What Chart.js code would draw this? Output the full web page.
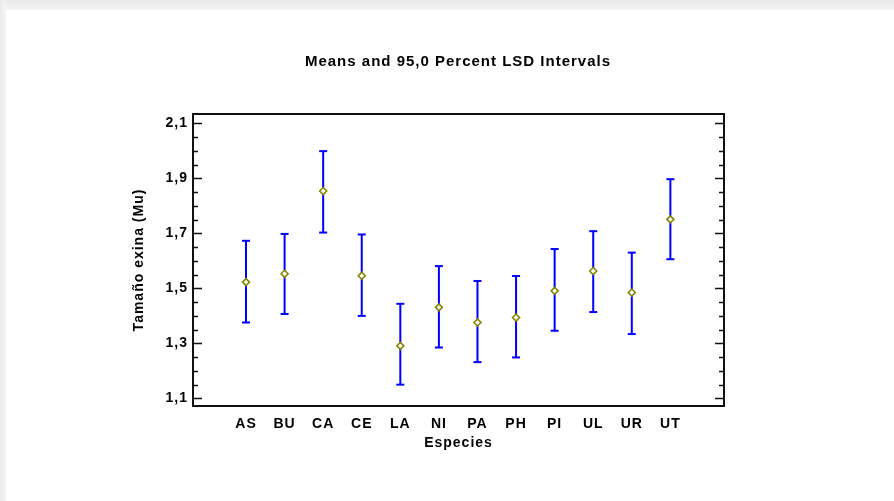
<!DOCTYPE html>
<html>
<head>
<meta charset="utf-8">
<script src="https://cdn.jsdelivr.net/npm/chart.js@4/dist/chart.umd.min.js"></script>
<style>
  html, body { margin: 0; padding: 0; }
  body { width: 894px; height: 501px; overflow: hidden; background: #fff; position: relative; }
  .edge-top { position: absolute; left: 0; top: 0; width: 894px; height: 10px; background: linear-gradient(to bottom, #e8e8e8, #f4f4f4); }
  .edge-left { position: absolute; left: 0; top: 0; width: 6px; height: 501px; background: linear-gradient(to right, #ebebeb, #f4f4f4); }
  canvas { position: absolute; left: 0; top: 0; }
</style>
</head>
<body>
<div class="edge-top"></div>
<div class="edge-left"></div>
<canvas id="chart" width="894" height="501"></canvas>
<script>
// Species and their mean exine size with 95% LSD interval limits
const species = ['AS', 'BU', 'CA', 'CE', 'LA', 'NI', 'PA', 'PH', 'PI', 'UL', 'UR', 'UT'];
const means   = [1.523, 1.553, 1.854, 1.546, 1.291, 1.431, 1.376, 1.394, 1.491, 1.563, 1.485, 1.751];
const lower   = [1.376, 1.407, 1.703, 1.400, 1.150, 1.285, 1.232, 1.249, 1.346, 1.414, 1.334, 1.606];
const upper   = [1.673, 1.698, 1.999, 1.696, 1.444, 1.581, 1.527, 1.545, 1.643, 1.708, 1.630, 1.897];
const yTicks  = [1.1, 1.3, 1.5, 1.7, 1.9, 2.1];

const BLUE = '#0000ff';
const OLIVE = '#858500';
const FAMILY = '"Liberation Sans", Arial, sans-serif';
const FONT = { family: FAMILY, size: 14, weight: 'bold' };

// Vertical interval stems, broken between species
const stemPoints = [];
species.forEach((s, i) => {
  stemPoints.push({ x: i + 1, y: lower[i] });
  stemPoints.push({ x: i + 1, y: upper[i] });
  stemPoints.push({ x: i + 1, y: null });
});
const capPoints = species.flatMap((s, i) => [{ x: i + 1, y: lower[i] }, { x: i + 1, y: upper[i] }]);
const meanPoints = species.map((s, i) => ({ x: i + 1, y: means[i] }));

// Letter spacing for all chart text
const spacing = {
  id: 'spacing',
  beforeLayout(chart) { chart.ctx.letterSpacing = '1px'; },
  beforeDraw(chart) { chart.ctx.letterSpacing = '1px'; }
};

// Plot frame with inward major/minor ticks on both vertical sides
const frame = {
  id: 'frame',
  afterDraw(chart) {
    const { ctx, chartArea: a } = chart;
    const y = chart.scales.y;
    ctx.save();
    ctx.strokeStyle = '#111';
    ctx.lineWidth = 1.5;
    ctx.beginPath();
    for (let k = 0; k <= 20; k++) {
      const v = 1.1 + k * 0.05;
      const py = Math.round(y.getPixelForValue(v)) + 0.5;
      const len = (k % 4 === 0) ? 9 : 5;
      ctx.moveTo(a.left, py); ctx.lineTo(a.left + len, py);
      ctx.moveTo(a.right, py); ctx.lineTo(a.right - len, py);
    }
    ctx.stroke();
    ctx.lineWidth = 2;
    ctx.strokeRect(a.left, a.top, a.right - a.left, a.bottom - a.top);
    ctx.restore();
  }
};

new Chart(document.getElementById('chart'), {
  type: 'scatter',
  data: {
    datasets: [
      {
        label: 'Mean',
        data: meanPoints,
        pointStyle: 'rectRot',
        pointRadius: 3.5,
        pointBorderWidth: 1.6,
        borderColor: OLIVE,
        backgroundColor: '#ffffff',
        pointBorderColor: OLIVE,
        pointBackgroundColor: '#ffffff'
      },
      {
        label: 'Caps',
        data: capPoints,
        pointStyle: 'line',
        pointRadius: 4,
        pointBorderWidth: 2,
        borderColor: BLUE,
        pointBorderColor: BLUE
      },
      {
        label: 'Interval',
        data: stemPoints,
        showLine: true,
        spanGaps: false,
        borderColor: BLUE,
        borderWidth: 2,
        pointRadius: 0
      }
    ]
  },
  options: {
    responsive: false,
    animation: false,
    layout: { padding: { left: 22, right: 0, top: 0, bottom: 0 } },
    plugins: {
      legend: { display: false },
      tooltip: { enabled: false },
      title: {
        display: true,
        text: 'Means and 95,0 Percent LSD Intervals',
        color: '#000',
        font: { family: FAMILY, size: 15, weight: 'bold' },
        padding: { top: 53, bottom: 43 }
      }
    },
    scales: {
      x: {
        type: 'linear',
        min: -0.374,
        max: 13.39,
        grid: { display: false, drawTicks: false },
        border: { display: false },
        afterBuildTicks(scale) { scale.ticks = species.map((s, i) => ({ value: i + 1 })); },
        afterFit(scale) { scale.height = 95; },
        ticks: {
          autoSkip: false,
          maxRotation: 0,
          padding: 10,
          color: '#000',
          font: FONT,
          callback: (v) => species[v - 1]
        },
        title: {
          display: true,
          text: 'Especies',
          color: '#000',
          font: FONT,
          padding: { top: 0, bottom: 49 }
        }
      },
      y: {
        type: 'linear',
        min: 1.0724,
        max: 2.134,
        grid: { display: false, drawTicks: false },
        border: { display: false },
        afterBuildTicks(scale) { scale.ticks = yTicks.map(v => ({ value: v })); },
        afterFit(scale) { scale.width = 171; },
        ticks: {
          padding: 5,
          color: '#000',
          font: FONT,
          callback: (v) => v.toFixed(1).replace('.', ',')
        },
        title: {
          display: true,
          text: 'Tamaño exina (Mu)',
          color: '#000',
          font: FONT,
          padding: { top: 109, bottom: 0 }
        }
      },
      // empty right margin beside the plot frame
      yRight: {
        type: 'linear',
        position: 'right',
        display: true,
        min: 1.0724,
        max: 2.134,
        grid: { display: false, drawTicks: false },
        border: { display: false },
        ticks: { display: false },
        afterFit(scale) { scale.width = 170; }
      }
    }
  },
  plugins: [spacing, frame]
});
</script>
</body>
</html>
